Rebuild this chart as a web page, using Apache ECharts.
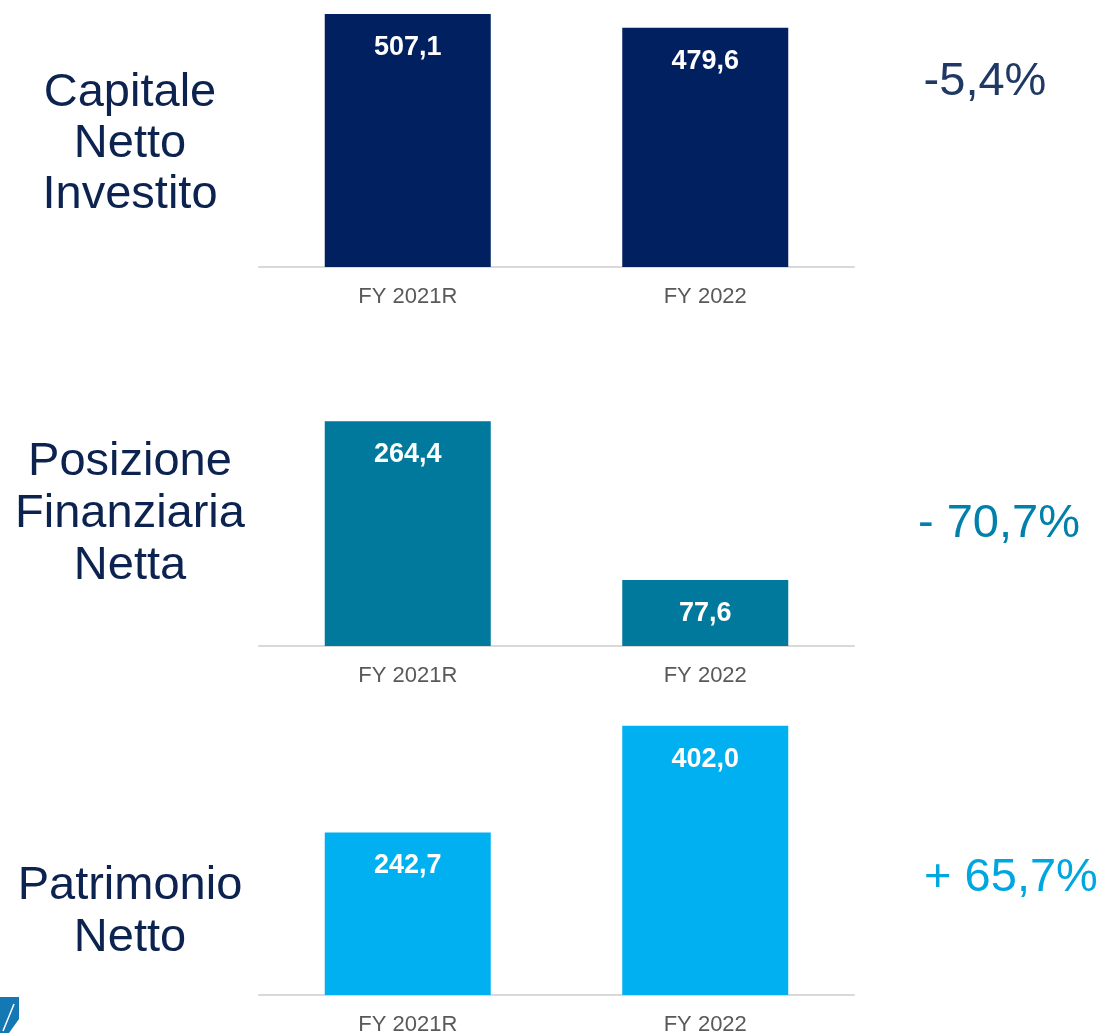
<!DOCTYPE html>
<html>
<head>
<meta charset="utf-8">
<script src="https://cdn.jsdelivr.net/npm/echarts@6/dist/echarts.min.js"></script>
<style>
html,body{margin:0;padding:0;background:#fff;}
#chart{width:1105px;height:1033px;}
</style>
</head>
<body>
<div id="chart"></div>
<script>
const categories = ['FY 2021R', 'FY 2022'];
const capitaleNettoInvestito = [507.1, 479.6];
const posizioneFinanziariaNetta = [264.4, 77.6];
const patrimonioNetto = [242.7, 402.0];
const metricNames = ['Capitale\nNetto\nInvestito', 'Posizione\nFinanziaria\nNetta', 'Patrimonio\nNetto'];
const changeLabels = ['-5,4%', '- 70,7%', '+ 65,7%'];

const FONT = '"Liberation Sans", Arial, sans-serif';
const barColors = ['#002060', '#00799c', '#00b0f0'];
const changeColors = ['#203864', '#0080aa', '#00a6e0'];
const nameColor = '#0c2350';

const seriesData = [capitaleNettoInvestito, posizioneFinanziariaNetta, patrimonioNetto];
const grids = [
  {left: 259, width: 595, top: 0, height: 267, outerBoundsMode: 'none', containLabel: false},
  {left: 259, width: 595, top: 400, height: 246, outerBoundsMode: 'none', containLabel: false},
  {left: 259, width: 595, top: 700, height: 295, outerBoundsMode: 'none', containLabel: false}
];
const yMax = [535, 289.4, 440.3];

const chart = echarts.init(document.getElementById('chart'));
const fmt = v => v.toFixed(1).replace('.', ',');

const option = {
  animation: false,
  backgroundColor: '#ffffff',
  grid: grids,
  xAxis: grids.map((g, i) => ({
    type: 'category',
    gridIndex: i,
    data: categories,
    axisLine: {show: true, lineStyle: {color: '#d9d9d9', width: 2}},
    axisTick: {show: false},
    axisLabel: {color: '#595959', fontSize: 22, fontFamily: FONT, margin: 19}
  })),
  yAxis: grids.map((g, i) => ({
    type: 'value',
    gridIndex: i,
    min: 0,
    max: yMax[i],
    show: false,
    splitLine: {show: false}
  })),
  series: seriesData.map((d, i) => ({
    type: 'bar',
    xAxisIndex: i,
    yAxisIndex: i,
    data: d,
    barWidth: 166,
    itemStyle: {color: barColors[i]},
    label: {
      show: true,
      position: 'insideTop',
      distance: 20,
      color: '#ffffff',
      fontSize: 27,
      fontWeight: 'bold',
      fontFamily: FONT,
      formatter: p => fmt(p.value)
    }
  })),
  graphic: [
    {type: 'text', x: 130, y: 144, style: {text: metricNames[0], fill: nameColor, font: '47px ' + FONT, align: 'center', verticalAlign: 'middle', lineHeight: 51}},
    {type: 'text', x: 130, y: 514, style: {text: metricNames[1], fill: nameColor, font: '47px ' + FONT, align: 'center', verticalAlign: 'middle', lineHeight: 52}},
    {type: 'text', x: 130, y: 912, style: {text: metricNames[2], fill: nameColor, font: '47px ' + FONT, align: 'center', verticalAlign: 'middle', lineHeight: 52}},
    {type: 'text', x: 985, y: 82, style: {text: changeLabels[0], fill: changeColors[0], font: '47px ' + FONT, align: 'center', verticalAlign: 'middle'}},
    {type: 'text', x: 999, y: 524, style: {text: changeLabels[1], fill: changeColors[1], font: '47px ' + FONT, align: 'center', verticalAlign: 'middle'}},
    {type: 'text', x: 1011, y: 878, style: {text: changeLabels[2], fill: changeColors[2], font: '47px ' + FONT, align: 'center', verticalAlign: 'middle'}},
    {type: 'polygon', shape: {points: [[0, 997], [19, 997], [19, 1019], [9, 1033], [0, 1033]]}, style: {fill: '#1478b4'}},
    {type: 'line', shape: {x1: 3, y1: 1031, x2: 14, y2: 1004}, style: {stroke: '#ffffff', lineWidth: 1.5}}
  ]
};
chart.setOption(option);
</script>
</body>
</html>
